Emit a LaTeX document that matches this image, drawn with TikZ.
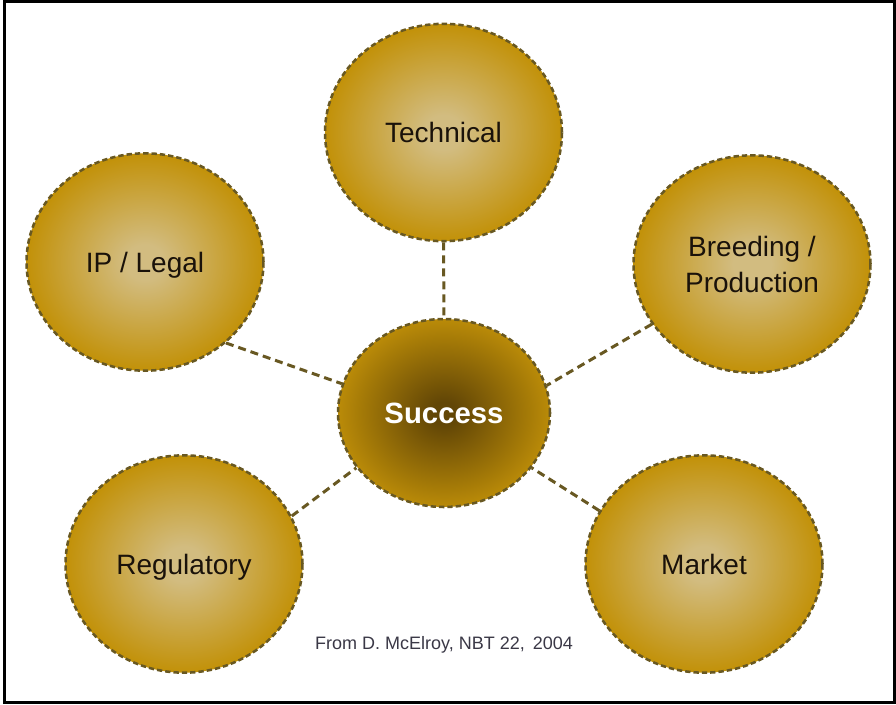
\documentclass[tikz,border=0pt]{standalone}
\usepackage{fontspec}
\setmainfont{Liberation Sans}
\usetikzlibrary{shapes.geometric}

\definecolor{gold}{RGB}{194,145,8}
\definecolor{cream}{RGB}{210,188,128}
\definecolor{umber}{RGB}{98,70,6}
\definecolor{rim}{RGB}{104,88,34}
\definecolor{ink}{RGB}{26,18,10}
\definecolor{credit}{RGB}{58,56,70}

\pgfdeclareradialshading{goldball}{\pgfpoint{0bp}{0bp}}{color(0bp)=(cream); color(4bp)=(cream); color(25bp)=(gold); color(50bp)=(gold)}
\pgfdeclareradialshading{darkball}{\pgfpoint{0bp}{0bp}}{color(0bp)=(umber); color(3bp)=(umber); color(27bp)=(gold); color(50bp)=(gold)}

\tikzset{
	factor/.style={ellipse, inner sep=0pt, minimum width=177.75pt, minimum height=163pt,
		shade, shading=goldball, draw=rim, line width=1.9pt, dash pattern=on 4pt off 2.25pt,
		text=ink, align=center, text height=15pt, text depth=0pt,
		font=\fontsize{21}{27}\selectfont},
	core/.style={factor, shading=darkball, minimum width=159pt, minimum height=141pt,
		text=white, text height=16pt, font=\fontsize{22}{27}\selectfont\bfseries},
	link/.style={draw=rim, line width=2.25pt, dash pattern=on 6pt off 3.75pt}
}

\begin{document}
\begin{tikzpicture}[x=0.75pt, y=-0.75pt]
			\useasboundingbox (0,0) rectangle (896,704);
			\draw[line width=2.25pt] (4.5,1.8) rectangle (894.8,702.2);
			\node (succ)  at (444,413)   [core]   {Success};
			\node (tech)  at (443.5,132.5) [factor] {Technical};
			\node (ip)    at (145,262)   [factor] {IP / Legal};
			\node (breed) at (752,264)   [factor, text height=, text depth=] {Breeding /\\Production};
			\node (reg)   at (184,564)   [factor] {Regulatory};
			\node (mkt)   at (704,564)   [factor] {Market};
			\draw[link] (tech.south) -- (succ.north);
			\draw[link] (ip.-45) -- (succ.164);
			\draw[link] (breed.-149) -- (succ.15);
			\draw[link] (reg.24) -- (succ.-148);
			\draw[link] (mkt.153) -- (succ.-32);
			\node (cite) at (444,645) [text=credit, font=\fontsize{13.5}{16}\selectfont] {From D. McElroy, NBT 22,\, 2004};
		\end{tikzpicture}
\end{document}
